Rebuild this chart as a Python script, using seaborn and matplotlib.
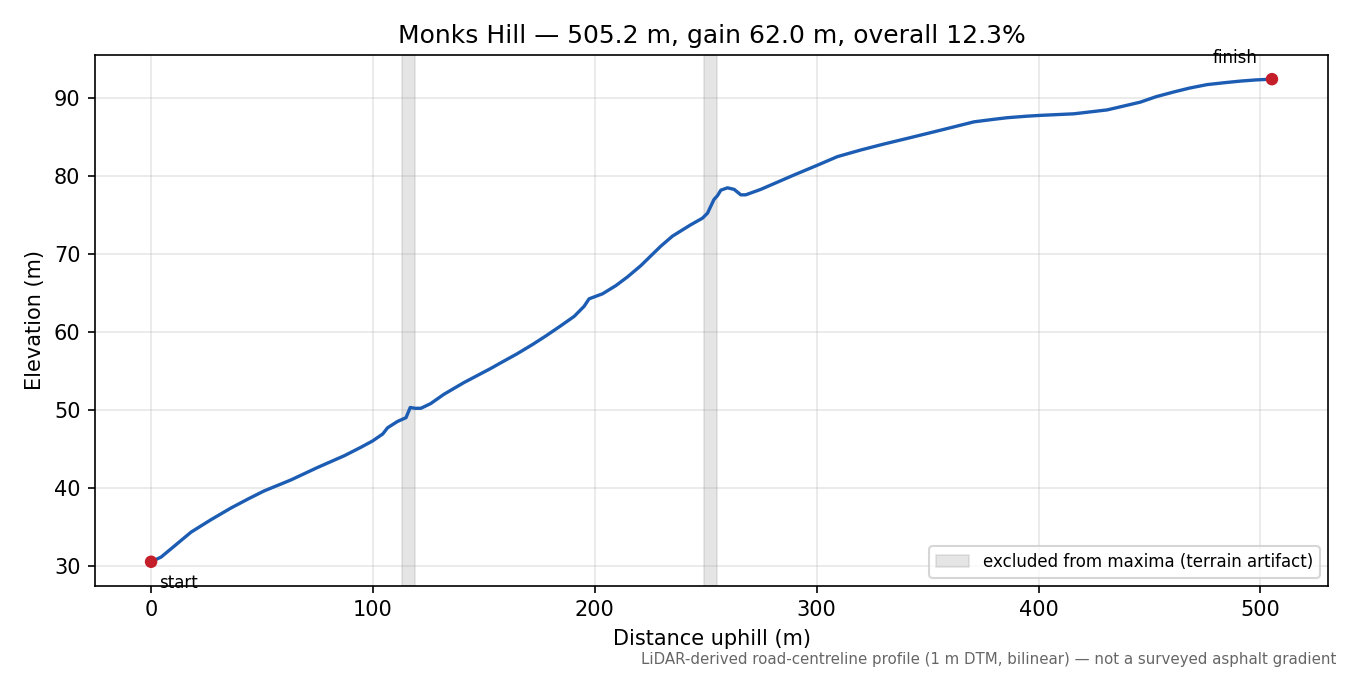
import numpy as np
import pandas as pd
import matplotlib
matplotlib.use('Agg')
import matplotlib.pyplot as plt
import seaborn as sns

# Perfil (distancia m, elevacion m)
distancia = [0, 4.5, 10, 18, 27, 36, 44, 51, 63, 75, 87, 94.6, 99.8, 104.4, 106.6,
             111, 114.9, 116.8, 119, 121.6, 126, 132, 141, 153, 158, 165, 172, 178,
             184.7, 190.7, 195.2, 197.4, 203.5, 209.5, 214.7, 220.7, 229.7, 235,
             243.2, 248.5, 250.8, 253.7, 255.3, 256.8, 259.8, 262.8, 265.8, 268,
             274.8, 289.8, 300.3, 309.3, 319.8, 330, 340.9, 355.9, 370.9, 380,
             385.9, 395, 400.9, 415.9, 430.9, 445.9, 453, 460.9, 468, 476, 484,
             491, 498, 505.2]
elevacion = [30.5, 31.1, 32.4, 34.3, 35.9, 37.4, 38.6, 39.6, 41.0, 42.6, 44.1, 45.2,
             46.0, 46.9, 47.7, 48.5, 49.0, 50.3, 50.2, 50.2, 50.8, 52.0, 53.5, 55.3,
             56.1, 57.2, 58.4, 59.5, 60.8, 62.0, 63.3, 64.25, 64.9, 65.95, 67.06,
             68.5, 71.0, 72.3, 73.75, 74.6, 75.25, 77.0, 77.5, 78.2, 78.5, 78.3,
             77.6, 77.6, 78.3, 80.15, 81.4, 82.5, 83.35, 84.1, 84.85, 85.9, 86.97,
             87.3, 87.5, 87.7, 87.8, 88.0, 88.5, 89.5, 90.2, 90.8, 91.3, 91.75,
             92.0, 92.2, 92.35, 92.45]

# Tramos excluidos (artefactos del terreno)
excluidos = [(113, 119), (249, 255)]

titulo = 'Monks Hill — 505.2 m, gain 62.0 m, overall 12.3%'
nota = 'LiDAR-derived road-centreline profile (1 m DTM, bilinear) — not a surveyed asphalt gradient'

df = pd.DataFrame({'d': distancia, 'e': elevacion})
extremos = df.iloc[[0, -1]]

fig, ax = plt.subplots(figsize=(9, 4.5), dpi=150)

for i, (a, b) in enumerate(excluidos):
    ax.axvspan(a, b, color='0.6', alpha=0.25, lw=0.8,
               label='excluded from maxima (terrain artifact)' if i == 0 else None)

sns.lineplot(data=df, x='d', y='e', ax=ax, color='#1c5db3', lw=1.6,
             sort=False, estimator=None)
sns.scatterplot(data=extremos, x='d', y='e', ax=ax, color='#c41e2a', s=36,
                edgecolor='none', zorder=5)

ax.annotate('start', (extremos['d'].iloc[0], extremos['e'].iloc[0]),
            xytext=(4, -6), textcoords='offset points', ha='left', va='top',
            fontsize=8)
ax.annotate('finish', (extremos['d'].iloc[1], extremos['e'].iloc[1]),
            xytext=(-7, 6), textcoords='offset points', ha='right', va='bottom',
            fontsize=8)

ax.set_title(titulo, fontsize=12)
ax.set_xlabel('Distance uphill (m)')
ax.set_ylabel('Elevation (m)')
ax.grid(True, alpha=0.3)
ax.set_axisbelow(True)

leg = ax.legend(loc='lower right', fontsize=8)

fig.text(0.99, 0.012, nota, ha='right', va='bottom', fontsize=7.2, color='0.4')

fig.subplots_adjust(left=0.0704, right=0.9837, top=0.9185, bottom=0.132)
fig.savefig('out.png', dpi=150)
